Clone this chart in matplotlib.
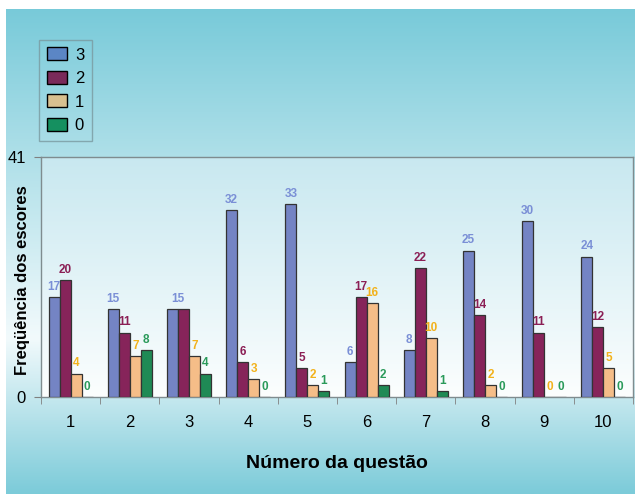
import numpy as np
import matplotlib
matplotlib.use("Agg")
import matplotlib.pyplot as plt
from matplotlib.patches import Patch

plt.rcParams['font.family'] = ['Liberation Sans', 'DejaVu Sans']

questoes = ["1", "2", "3", "4", "5", "6", "7", "8", "9", "10"]
escore_3 = [17, 15, 15, 32, 33, 6, 8, 25, 30, 24]
escore_2 = [20, 11, 15, 6, 5, 17, 22, 14, 11, 12]
escore_1 = [4, 7, 7, 3, 2, 16, 10, 2, 0, 5]
escore_0 = [0, 8, 4, 0, 1, 2, 1, 0, 0, 0]
series_names = ["3", "2", "1", "0"]

bar_colors = ["#7484c4", "#86245a", "#f5bd88", "#1f8a55"]
label_colors = ["#7a8fd6", "#8b1f55", "#f2b21c", "#2a9a5a"]
legend_colors = ["#5b86c5", "#7a2a5a", "#d8c090", "#159060"]


def vgrad(stops, n=256):
    # stops: list of (pos, rgb) with pos from top (0) to bottom (1)
    pos = np.array([s[0] for s in stops])
    cols = np.array([s[1] for s in stops]) / 255.0
    t = np.linspace(0, 1, n)
    img = np.stack([np.interp(t, pos, cols[:, k]) for k in range(3)], axis=1)
    return img[:, None, :]


W, H = 635, 494
fig = plt.figure(figsize=(6.35, 4.94), dpi=100)
fig.patch.set_facecolor("white")

# background panel with cyan-white-cyan gradient
bg = fig.add_axes([6 / W, 0, 1 - 6 / W, 1 - 9 / H], zorder=-10)
bg.imshow(vgrad([(0, (120, 202, 217)), (0.68, (242, 250, 252)), (1, (124, 203, 217))]),
          aspect="auto", extent=[0, 1, 0, 1])
bg.axis("off")

ax = fig.add_axes([41 / W, 1 - 397 / H, 592 / W, 240 / H])
ax.imshow(vgrad([(0, (200, 232, 240)), (1, (252, 254, 254))]), aspect="auto",
          extent=[0.5, 10.5, 0, 41], zorder=0)

x = np.arange(1, len(questoes) + 1)
width = 0.186
all_series = [escore_3, escore_2, escore_1, escore_0]
for i, vals in enumerate(all_series):
    xs = x + (i - 1.5) * width
    ax.bar(xs, vals, width, color=bar_colors[i], edgecolor="#333333",
           linewidth=0.9, zorder=3)
    for j, (xi, v) in enumerate(zip(xs, vals)):
        dx = 0
        # equal neighbouring bars share one label, like the original
        if v > 0 and i > 0 and all_series[i - 1][j] == v:
            continue
        if v > 0 and i < 3 and all_series[i + 1][j] == v:
            dx = width / 2
        ax.annotate(str(v), (xi + dx, v), xytext=(0, 3), textcoords="offset points",
                    ha="center", va="bottom", fontsize=8.5, fontweight="bold",
                    color=label_colors[i], zorder=4)

ax.set_xlim(0.5, 10.5)
ax.set_ylim(0, 41)
ax.set_facecolor("none")
ax.set_yticks([0, 41])
ax.set_xticks(x)
ax.set_xticklabels(questoes)
ax.set_xticks(np.arange(0.5, 11, 1), minor=True)
ax.tick_params(axis="x", which="major", length=0, pad=13, labelsize=12)
ax.tick_params(axis="x", which="minor", length=5, color="#808080", direction="out")
ax.tick_params(axis="y", length=5, color="#808080", pad=6, labelsize=12)
for s in ax.spines.values():
    s.set_color("#7f8c8f")
    s.set_linewidth(1)

ax.set_xlabel("Número da questão", fontsize=14, fontweight="bold", labelpad=18)
fig.text(23 / W, 1 - 280 / H, "Freqüência dos escores", rotation=90,
         ha="center", va="center", fontsize=12, fontweight="bold")

handles = [Patch(facecolor=c, edgecolor="black", linewidth=1) for c in legend_colors]
fig.legend(handles, series_names, loc="upper left",
           bbox_to_anchor=(39 / W, 1 - 40 / H), borderaxespad=0,
           frameon=True, fancybox=False,
           edgecolor="#7a9aa0", facecolor="none", fontsize=12,
           handlelength=1.2, handleheight=0.8, handletextpad=0.5,
           labelspacing=0.5, borderpad=0.45)

fig.savefig("out.png", dpi=100)
